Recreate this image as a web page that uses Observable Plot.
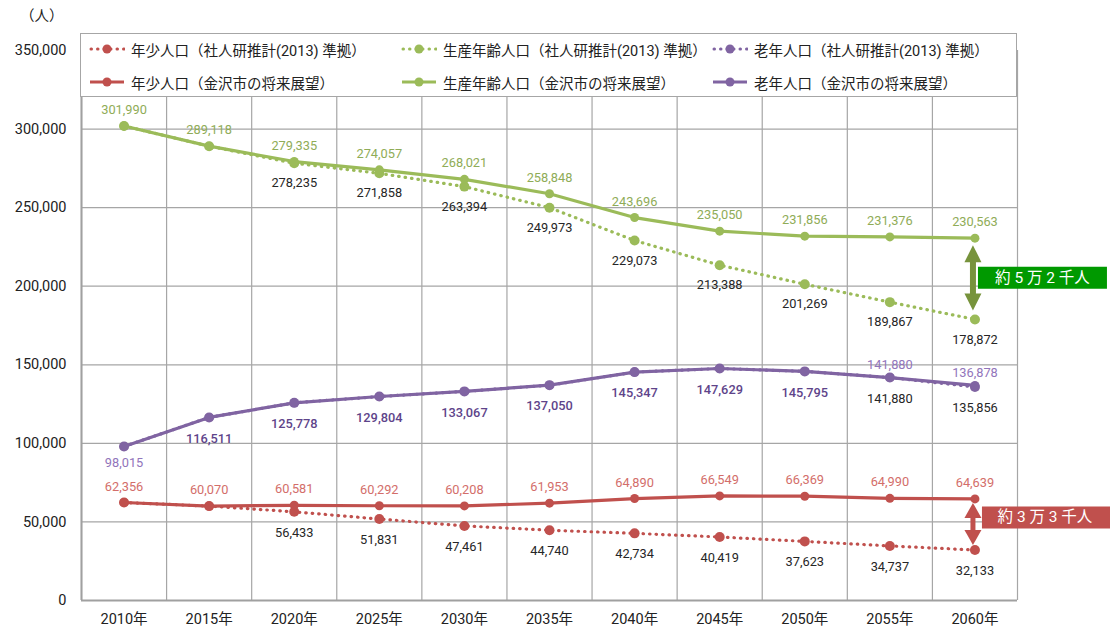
<!DOCTYPE html>
<html>
<head>
<meta charset="utf-8">
<script src="https://cdn.jsdelivr.net/npm/d3@7"></script>
<script src="https://cdn.jsdelivr.net/npm/@observablehq/plot@0.6"></script>
<style>
  html, body { margin: 0; padding: 0; background: #fff; }
  body { font-family: Roboto, "Noto Sans CJK JP", sans-serif; color: #222; }
  #chart { position: relative; width: 1110px; height: 634px; overflow: hidden; }
  #chart > svg { position: absolute; left: 0; top: 0; }
  #unit { position: absolute; left: 20px; top: 4px; font-size: 14.5px; color: #222; }
  #legend { position: absolute; left: 80px; top: 33px; width: 937px; height: 64px;
            background: #fff; border: 1px solid #a6a6a6; box-sizing: border-box; }
  .item { position: absolute; display: flex; align-items: center; font-size: 14.5px; color: #222; white-space: nowrap; height: 20px; }
  .item svg { display: block; margin-right: 6px; }
</style>
</head>
<body>
<div id="chart">
  <div id="unit">（人）</div>
</div>
<script>
// ---- data ----
const years = [2010, 2015, 2020, 2025, 2030, 2035, 2040, 2045, 2050, 2055, 2060];
const yTicks = [0, 50000, 100000, 150000, 200000, 250000, 300000, 350000];

const youthPlan   = [62356, 60070, 60581, 60292, 60208, 61953, 64890, 66549, 66369, 64990, 64639];
const youthIpss   = [62356, 60070, 56433, 51831, 47461, 44740, 42734, 40419, 37623, 34737, 32133];
const workingPlan = [301990, 289118, 279335, 274057, 268021, 258848, 243696, 235050, 231856, 231376, 230563];
const workingIpss = [301990, 289118, 278235, 271858, 263394, 249973, 229073, 213388, 201269, 189867, 178872];
const elderlyPlan = [98015, 116511, 125778, 129804, 133067, 137050, 145347, 147629, 145795, 141880, 136878];
const elderlyIpss = [98015, 116511, 125778, 129804, 133067, 137050, 145347, 147629, 145795, 141880, 135856];

const seriesNames = {
  youth:   ["年少人口（社人研推計(2013) 準拠）", "年少人口（金沢市の将来展望）"],
  working: ["生産年齢人口（社人研推計(2013) 準拠）", "生産年齢人口（金沢市の将来展望）"],
  elderly: ["老年人口（社人研推計(2013) 準拠）", "老年人口（金沢市の将来展望）"]
};
const gapLabels = {working: "約 5 万 2 千人", youth: "約 3 万 3 千人"};

// ---- styles ----
const colors = {youth: "#C0504D", working: "#9BBB59", elderly: "#8064A2"};
const labelColors = {youth: "#D36E6A", working: "#8FAC57", elderly: "#9275BB"};
const elderlyDark = "#5E448A";
const darkLabel = "#262626";
const dotDash = "0.5 6";

const seriesData = {
  youth:   {plan: youthPlan,   ipss: youthIpss},
  working: {plan: workingPlan, ipss: workingIpss},
  elderly: {plan: elderlyPlan, ipss: elderlyIpss}
};

const rows = [];
for (const key of ["youth", "working", "elderly"]) {
  for (const kind of ["ipss", "plan"]) {
    years.forEach((yr, i) => rows.push({series: key, kind, year: yr, value: seriesData[key][kind][i], i}));
  }
}
const pick = (key, kind, f = () => true) => rows.filter(d => d.series === key && d.kind === kind && f(d));
const fmt = d3.format(",");

const gridX = years.map(y => y - 2.5).concat([years[years.length - 1] + 2.5]);

// custom arrowhead / box symbols
const head = (hw, h) => ({draw(ctx) { ctx.moveTo(0, 0); ctx.lineTo(hw, h); ctx.lineTo(-hw, h); ctx.closePath(); }});
const box = (w, h) => ({draw(ctx) { ctx.rect(-w / 2, -h / 2, w, h); }});

const last = years.length - 1;
const gW = {series: "working", year: years[last], top: workingPlan[last], bottom: workingIpss[last]};
const gY = {series: "youth", year: years[last], top: youthPlan[last], bottom: youthIpss[last]};

const marks = [
  Plot.ruleY(yTicks, {stroke: "#a6a6a6", strokeWidth: 1.2}),
  Plot.ruleX(gridX, {stroke: "#a6a6a6", strokeWidth: 1.2}),
  Plot.ruleX([gridX[0]], {stroke: "#a0a0a0", strokeWidth: 2}),
  Plot.ruleY([0], {stroke: "#a0a0a0", strokeWidth: 2}),
  Plot.axisY({ticks: yTicks, tickSize: 0, tickPadding: 15, tickFormat: fmt, fontSize: 14.5, label: null}),
  Plot.axisX({ticks: years, tickSize: 0, tickPadding: 13, tickFormat: d => d + "年", fontSize: 14.5, label: null})
];

for (const key of ["youth", "working", "elderly"]) {
  marks.push(
    Plot.line(pick(key, "ipss"), {x: "year", y: "value", stroke: colors[key], strokeWidth: 3.2, strokeDasharray: dotDash, strokeLinecap: "round"}),
    Plot.dot(pick(key, "ipss"), {x: "year", y: "value", fill: colors[key], r: 5})
  );
}
for (const key of ["youth", "working", "elderly"]) {
  marks.push(
    Plot.line(pick(key, "plan"), {x: "year", y: "value", stroke: colors[key], strokeWidth: 3.2}),
    Plot.dot(pick(key, "plan"), {x: "year", y: "value", fill: colors[key], r: 4.5})
  );
}

const lbl = {x: "year", y: "value", text: d => fmt(d.value), fontSize: 12.8};
marks.push(
  Plot.text(pick("working", "plan"), {...lbl, dy: -16, fill: labelColors.working}),
  Plot.text(pick("working", "ipss", d => d.i >= 2), {...lbl, dy: 20, fill: darkLabel}),
  Plot.text(pick("youth", "plan"), {...lbl, dy: -16, fill: labelColors.youth}),
  Plot.text(pick("youth", "ipss", d => d.i >= 2), {...lbl, dy: 21, fill: darkLabel}),
  Plot.text(pick("elderly", "plan", d => d.i === 0), {...lbl, dy: 16, fill: labelColors.elderly}),
  Plot.text(pick("elderly", "plan", d => d.i >= 1 && d.i <= 8), {...lbl, dy: 21, fill: elderlyDark, fontWeight: 500}),
  Plot.text(pick("elderly", "plan", d => d.i >= 9), {...lbl, dy: -13, fill: labelColors.elderly}),
  Plot.text(pick("elderly", "ipss", d => d.i >= 9), {...lbl, dy: 21, fill: darkLabel})
);

// gap annotations
const mid = d => (d.top + d.bottom) / 2;
marks.push(
  Plot.ruleX([gW], {x: "year", y1: "top", y2: "bottom", dx: -2, stroke: "#77933C", strokeWidth: 6, insetTop: 20, insetBottom: 22}),
  Plot.dot([gW], {x: "year", y: "top", dx: -2, dy: 7, symbol: head(8.5, 17), fill: "#77933C", r: 5}),
  Plot.dot([gW], {x: "year", y: "bottom", dx: -2, dy: -9, symbol: head(8.5, -17), fill: "#77933C", r: 5}),
  Plot.dot([gW], {x: "year", y: mid, dx: 67.5, dy: -1, symbol: box(129, 22), fill: "#009900", r: 5}),
  Plot.text([gW], {x: "year", y: mid, dx: 67.5, dy: -1, text: d => gapLabels[d.series], fill: "white", fontSize: 15.5}),

  Plot.ruleX([gY], {x: "year", y1: "top", y2: "bottom", dx: -2, stroke: "#C0504D", strokeWidth: 5, insetTop: 14, insetBottom: 14}),
  Plot.dot([gY], {x: "year", y: "top", dx: -2, dy: 4, symbol: head(8.5, 15), fill: "#C0504D", r: 5}),
  Plot.dot([gY], {x: "year", y: "bottom", dx: -2, dy: -5, symbol: head(8.5, -15), fill: "#C0504D", r: 5}),
  Plot.dot([gY], {x: "year", y: mid, dx: 73, dy: -7, symbol: box(132, 22), fill: "#C0504D", r: 5}),
  Plot.text([gY], {x: "year", y: mid, dx: 70, dy: -7, text: d => gapLabels[d.series], fill: "white", fontSize: 15.5})
);

const plot = Plot.plot({
  width: 1110,
  height: 634,
  marginLeft: 81,
  marginRight: 93,
  marginTop: 50,
  marginBottom: 34,
  x: {domain: [gridX[0], gridX[gridX.length - 1]]},
  y: {domain: [0, 350000]},
  style: {fontFamily: 'Roboto, "Noto Sans CJK JP", sans-serif', color: "#222", background: "transparent", overflow: "visible"},
  marks
});

const chart = document.getElementById("chart");
chart.insertBefore(plot, chart.firstChild);

// legend (overlaying the top of the plot, as in the original)
const legend = document.createElement("div");
legend.id = "legend";
chart.appendChild(legend);
const cols = [
  {key: "youth", left: 8},
  {key: "working", left: 320},
  {key: "elderly", left: 631}
];
cols.forEach(c => {
  [0, 1].forEach(row => {
    const dotted = row === 0;
    const item = document.createElement("div");
    item.className = "item";
    item.style.left = c.left + "px";
    item.style.top = (row === 0 ? 5 : 38) + "px";
    const w = 36;
    item.innerHTML =
      `<svg width="${w}" height="12" viewBox="0 0 ${w} 12">` +
      `<line x1="${dotted ? 2 : 1}" y1="6" x2="${w - 1}" y2="6" stroke="${colors[c.key]}" stroke-width="3" ` +
      (dotted ? `stroke-dasharray="${dotDash}" stroke-linecap="round"` : '') + `/>` +
      `<circle cx="${w / 2}" cy="6" r="4.5" fill="${colors[c.key]}"/></svg>` +
      `<span>${seriesNames[c.key][row]}</span>`;
    legend.appendChild(item);
  });
});
</script>
</body>
</html>
